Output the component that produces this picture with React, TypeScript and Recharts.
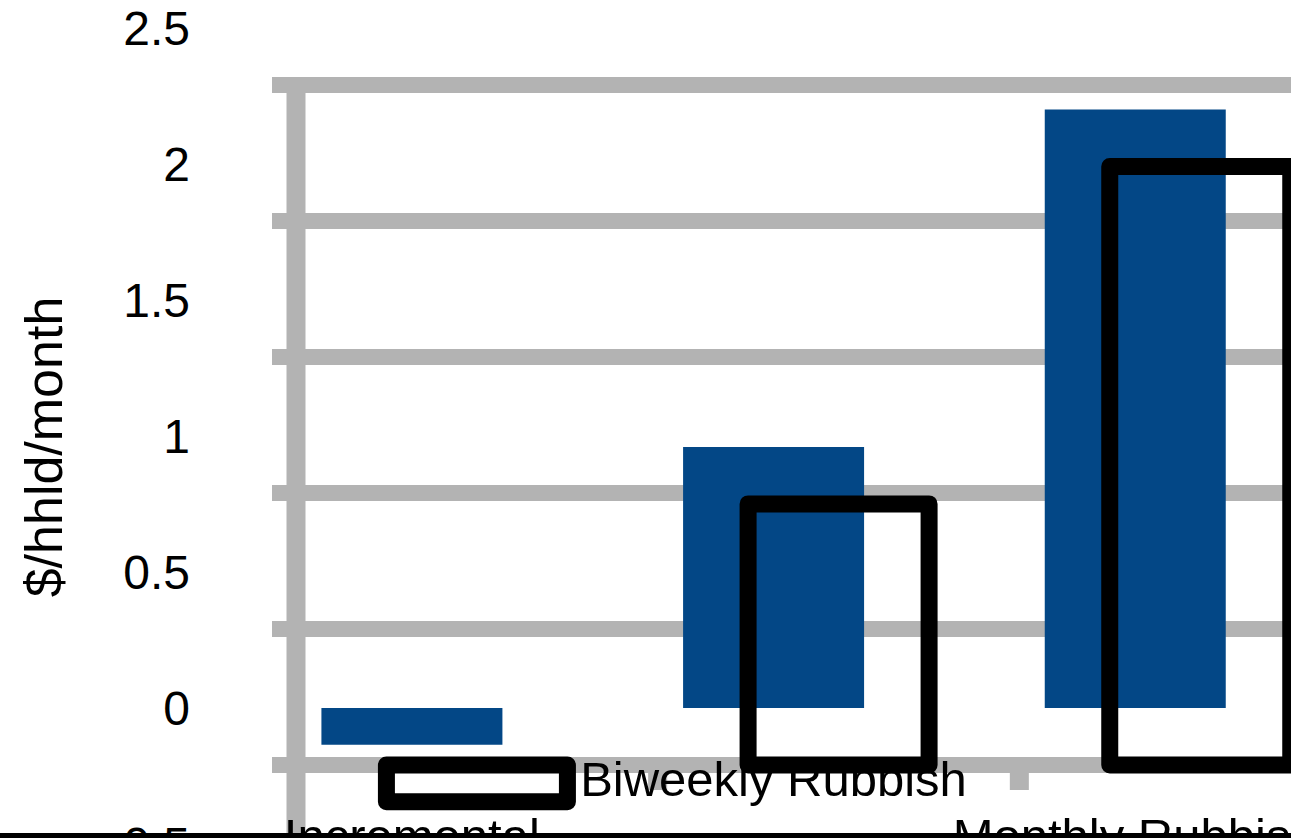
import { BarChart, Bar, XAxis, YAxis, CartesianGrid, Label } from 'recharts';

// data
const categories = ['Incremental', 'Biweekly Rubbish', 'Monthly Rubbish'];
const costPerHousehold = [-0.135, 0.96, 2.2];
const yTicks = [-0.5, 0, 0.5, 1, 1.5, 2, 2.5];
const yDomain: [number, number] = [-0.5, 2.5];

const data = categories.map((name, i) => ({ name, cost: costPerHousehold[i] }));

// layout
const W = 1330;
const H = 884;
const margin = { top: 28, right: 14, left: 0, bottom: 0 };
const AXIS_W = 231;
const AXIS_H = 40;
const BAND = (W - margin.right - AXIS_W) / categories.length;
// the grid / outline layer is drawn offset from the filled bars
const SHADOW_DX = 65;
const SHADOW_DY = 57;
const ZERO_FROM_BOTTOM = 136; // zero line sits half a unit above the plot bottom

const GRID = '#b3b3b3';
const BLUE = '#034786';
const FONT = '"Liberation Sans", Arial, Helvetica, sans-serif';

const NoLabel = () => <g />;

const BoundaryTick = (props: any) => {
  const { x, y } = props;
  return (
    <rect
      x={x + BAND / 2 - 9.5}
      y={y - ZERO_FROM_BOTTOM + 8}
      width={19}
      height={17}
      fill={GRID}
    />
  );
};

const CategoryTick = (props: any) => {
  const { x, y, index, payload } = props;
  // labels are staggered on two rows
  const baseline = index % 2 === 1 ? y - 48 : y + 9;
  return (
    <text x={x} y={baseline} textAnchor="middle" fill="#000" fontSize={49} fontFamily={FONT}>
      {payload.value}
    </text>
  );
};

const OutlineBar = (props: any) => {
  const { x, y, width, height } = props;
  const top = Math.min(y, y + height);
  const h = Math.abs(height);
  return (
    <rect
      x={x}
      y={top}
      width={width}
      height={h}
      fill="none"
      stroke="#000"
      strokeWidth={17}
      strokeLinejoin="round"
    />
  );
};

const YTitle = (props: any) => {
  const vb = props.viewBox || { y: 0, height: 0 };
  const cx = 62;
  const cy = vb.y + vb.height / 2 + 11;
  return (
    <text
      x={cx}
      y={cy}
      transform={`rotate(-90, ${cx}, ${cy})`}
      textAnchor="middle"
      fill="#000"
      fontSize={52}
      fontFamily={FONT}
    >
      $/hhld/month
    </text>
  );
};

export default function App() {
  const layer = (dx: number, dy: number) => ({
    position: 'absolute' as const,
    left: dx,
    top: dy,
  });

  return (
    <div
      style={{
        position: 'absolute',
        left: 0,
        top: 0,
        width: 1291,
        height: 838,
        overflow: 'hidden',
        background: '#fff',
        fontFamily: FONT,
      }}
    >
      {/* grid + axis lines (offset layer, behind) */}
      <div style={layer(SHADOW_DX, SHADOW_DY)}>
        <BarChart width={W} height={H} data={data} margin={margin} barCategoryGap="25%">
          <CartesianGrid vertical={false} stroke={GRID} strokeWidth={16} />
          <XAxis
            dataKey="name"
            height={AXIS_H}
            axisLine={false}
            tickLine={false}
            tickSize={0}
            tickMargin={0}
            interval={0}
            tick={<BoundaryTick />}
          />
          <YAxis
            type="number"
            domain={yDomain}
            ticks={yTicks}
            width={AXIS_W}
            axisLine={{ stroke: GRID, strokeWidth: 19 }}
            tickLine={{ stroke: GRID, strokeWidth: 16 }}
            tickSize={24}
            interval={0}
            tick={<NoLabel />}
          />
          <Bar dataKey="cost" fill="none" isAnimationActive={false} />
        </BarChart>
      </div>

      {/* filled bars, tick labels, axis title */}
      <div style={layer(0, 0)}>
        <BarChart width={W} height={H} data={data} margin={margin} barCategoryGap="25%">
          <XAxis
            dataKey="name"
            height={AXIS_H}
            axisLine={false}
            tickLine={false}
            tickSize={0}
            tickMargin={0}
            interval={0}
            tick={<CategoryTick />}
          />
          <YAxis
            type="number"
            domain={yDomain}
            ticks={yTicks}
            width={AXIS_W}
            axisLine={false}
            tickLine={false}
            tickSize={0}
            tickMargin={41}
            interval={0}
            tick={{ fill: '#000', fontSize: 48, fontFamily: FONT }}
          >
            <Label content={<YTitle />} />
          </YAxis>
          <Bar dataKey="cost" fill={BLUE} isAnimationActive={false} />
        </BarChart>
      </div>

      {/* black outlined bars (offset layer, in front) */}
      <div style={layer(SHADOW_DX, SHADOW_DY)}>
        <BarChart width={W} height={H} data={data} margin={margin} barCategoryGap="25%">
          <XAxis dataKey="name" height={AXIS_H} axisLine={false} tickLine={false} tick={<NoLabel />} />
          <YAxis
            type="number"
            domain={yDomain}
            ticks={yTicks}
            width={AXIS_W}
            axisLine={false}
            tickLine={false}
            tick={<NoLabel />}
          />
          <Bar dataKey="cost" isAnimationActive={false} shape={<OutlineBar />} />
        </BarChart>
      </div>

      <div
        style={{
          position: 'absolute',
          left: 0,
          bottom: 0,
          width: '100%',
          height: 5,
          background: '#000',
        }}
      />
    </div>
  );
}
